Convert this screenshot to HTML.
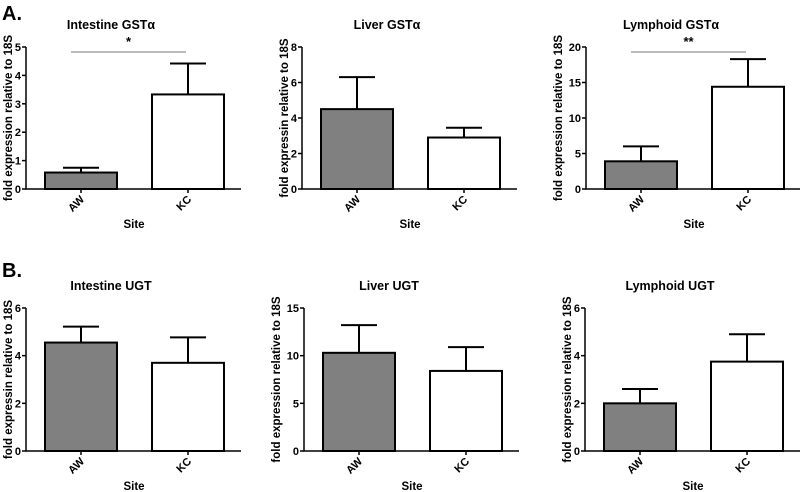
<!DOCTYPE html>
<html><head><meta charset="utf-8"><style>
body{margin:0;background:#fff}
svg{display:block;font-family:"Liberation Sans",sans-serif;font-weight:bold}
</style></head><body>
<svg id="c" width="800" height="492">
<text x="2" y="20" font-size="20">A.</text>
<text x="2" y="277" font-size="20">B.</text>
</svg>
<script>
const categories = ["AW","KC"];
const titles = ["Intestine GST\u03b1","Liver GST\u03b1","Lymphoid GST\u03b1","Intestine UGT","Liver UGT","Lymphoid UGT"];
const yTitles = ["fold expression relative to 18S","fold expressin relative to 18S","fold expression relative to 18S","fold expressin relative to 18S","fold expression relative to 18S","fold expression relative to 18S"];
const means = [[0.58,3.33],[4.5,2.9],[3.9,14.4],[4.55,3.7],[10.3,8.4],[2.0,3.75]];
const errs = [[0.17,1.09],[1.8,0.55],[2.1,3.9],[0.67,1.07],[2.9,2.5],[0.6,1.15]];
const yMax = [5,8,20,6,15,6];
const yStep = [1,2,5,2,5,2];
const sig = ["*","","**","","",""];
const NS="http://www.w3.org/2000/svg";
const svg=document.getElementById('c');
function mk(t,a,p){const e=document.createElementNS(NS,t);for(const k in a)e.setAttribute(k,a[k]);(p||svg).appendChild(e);return e;}
const axX=[26,302,586,26,304,585];
const top_=[[47,189],[47,189],[47,189],[308,451],[308,451],[308,451]];
for(let i=0;i<6;i++){
  const g=mk('g',{});
  
  
  const x0=axX[i],yt=top_[i][0],yb=top_[i][1];
  const ys=v=>yb-(v/yMax[i])*(yb-yt);
  const cx=k=>x0+55+k*107;
  const digits=String(yMax[i]).length;
  const t=mk('text',{x:x0+85,y:yt-18,'font-size':12.5,'text-anchor':'middle'},g);t.textContent=titles[i];
  
  const yl=mk('text',{transform:`translate(${x0-(digits>1?24:14)},${(yt+yb)/2}) rotate(-90)`,'font-size':11.5,'text-anchor':'middle'},g);yl.textContent=yTitles[i];
  
  const ax=mk('path',{d:`M${x0},${yt}V${yb}H${x0+215}`,stroke:'#000','stroke-width':1.5,fill:'none'},g);
  
  for(let v=0;v<=yMax[i]+1e-9;v+=yStep[i]){
    mk('line',{x1:x0-4,x2:x0,y1:ys(v),y2:ys(v),stroke:'#000','stroke-width':1.5},g);
    const tl=mk('text',{x:x0-5,y:ys(v)+4,'font-size':11,'text-anchor':'end'},g);tl.textContent=v;
    
  }
  for(let k=0;k<2;k++){
    const c=cx(k),m=means[i][k],e=errs[i][k];
    mk('line',{x1:c,x2:c,y1:ys(m),y2:ys(m+e),stroke:'#000','stroke-width':2},g);
    mk('line',{x1:c-18,x2:c+18,y1:ys(m+e),y2:ys(m+e),stroke:'#000','stroke-width':2},g);
    const b=mk('rect',{x:c-36,y:ys(m),width:72,height:yb-ys(m),fill:k?'#fff':'#808080',stroke:'#000','stroke-width':2},g);
    
    mk('line',{x1:c,x2:c,y1:yb,y2:yb+4,stroke:'#000','stroke-width':1.5},g);
    const xl=mk('text',{transform:`translate(${c+4},${yb+11}) rotate(-45)`,'font-size':11,'text-anchor':'end'},g);xl.textContent=categories[k];
    
  }
  const st=mk('text',{x:x0+108,y:yb+39,'font-size':11.5,'text-anchor':'middle'},g);st.textContent='Site';
  
  if(sig[i]){
    const sl=mk('line',{x1:cx(0)-10,x2:cx(1)-2,y1:yt+5,y2:yt+5,stroke:'#777','stroke-width':1},g);
    
    const ss=mk('text',{x:(cx(0)+cx(1))/2-6,y:yt-1,'font-size':13,'text-anchor':'middle'},g);ss.textContent=sig[i];
    
  }
}
</script>
</body></html>
